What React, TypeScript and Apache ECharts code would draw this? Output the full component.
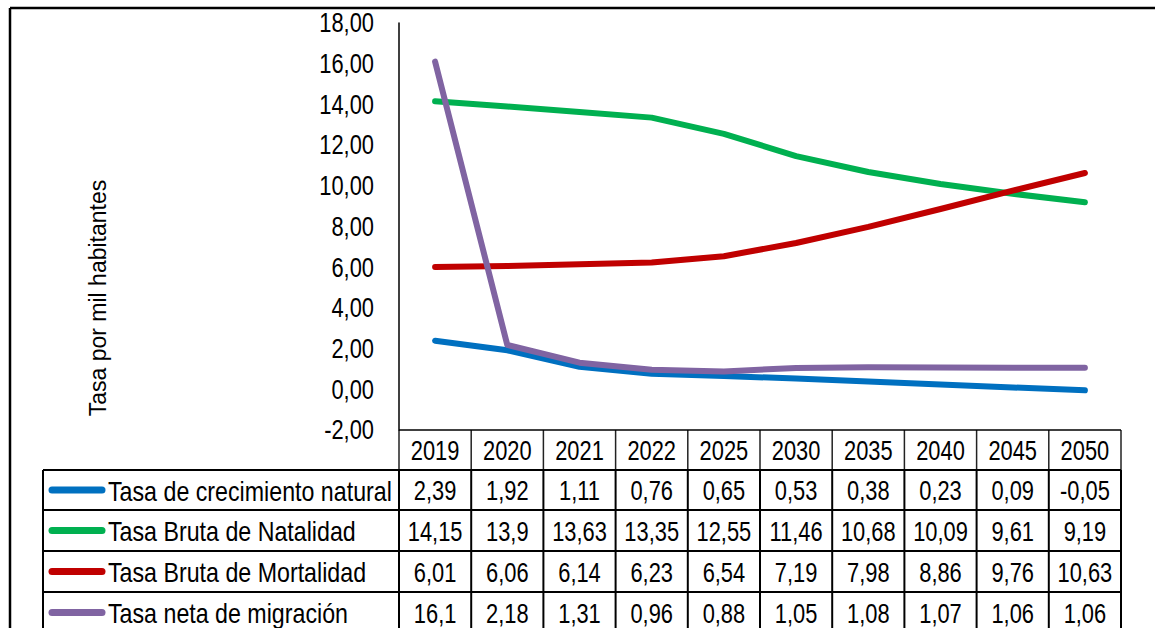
import React, { useEffect, useRef } from "react";
import * as echarts from "echarts";

const categories = ["2019", "2020", "2021", "2022", "2025", "2030", "2035", "2040", "2045", "2050"];
const crecimiento = [2.39, 1.92, 1.11, 0.76, 0.65, 0.53, 0.38, 0.23, 0.09, -0.05];
const natalidad = [14.15, 13.9, 13.63, 13.35, 12.55, 11.46, 10.68, 10.09, 9.61, 9.19];
const mortalidad = [6.01, 6.06, 6.14, 6.23, 6.54, 7.19, 7.98, 8.86, 9.76, 10.63];
const migracion = [16.1, 2.18, 1.31, 0.96, 0.88, 1.05, 1.08, 1.07, 1.06, 1.06];
const yTicks = [-2, 0, 2, 4, 6, 8, 10, 12, 14, 16, 18];
const seriesNames = [
  "Tasa de crecimiento natural",
  "Tasa Bruta de Natalidad",
  "Tasa Bruta de Mortalidad",
  "Tasa neta de migración",
];
const seriesColors = ["#0070C0", "#00B050", "#C00000", "#8064A2"];
const yAxisTitle = "Tasa por mil habitantes";

const FONT = "'Liberation Sans', Arial, sans-serif";
const FS = 27;
const SX = 0.81;
const SX_LEGEND = 0.86;

const fmt = (v: number) => String(v).replace(".", ",");

export default function App() {
  const ref = useRef<HTMLDivElement>(null);
  useEffect(() => {
    document.body.style.margin = "0";
    const chart = echarts.init(ref.current!, null, { renderer: "svg" });
    const allData = [crecimiento, natalidad, mortalidad, migracion];
    chart.setOption({
      animation: false,
      backgroundColor: "#fff",
      textStyle: { fontFamily: FONT },
      grid: { left: 399, right: 34, top: 23, bottom: 198 },
      xAxis: {
        type: "category",
        data: categories,
        boundaryGap: true,
        axisLine: { show: false },
        axisTick: { show: false },
        axisLabel: { show: false },
      },
      yAxis: {
        type: "value",
        min: -2,
        max: 18,
        interval: 2,
        splitLine: { show: false },
        axisLine: { show: true, lineStyle: { color: "#000", width: 1.5 } },
        axisTick: { show: false },
        axisLabel: { show: false },
      },
      series: allData.map((d, i) => ({
        name: seriesNames[i],
        type: "line",
        data: d,
        symbol: "none",
        smooth: false,
        lineStyle: { color: seriesColors[i], width: 6, cap: "round", join: "round" },
        z: 2 + i,
      })),
    });

    const x0 = chart.convertToPixel({ xAxisIndex: 0 }, 0) as number;
    const x1 = chart.convertToPixel({ xAxisIndex: 0 }, 1) as number;
    const w = x1 - x0;
    const left = x0 - w / 2;
    const right = left + w * categories.length;
    const headerTop = 430;
    const rowTops = [470, 510, 551, 592, 633];
    const legendLeft = 43;
    const bottomEdge = 640;

    const txt = (x: number, y: number, text: string, align: string, sx: number = SX) => ({
      type: "text",
      x,
      y,
      scaleX: sx,
      style: { text, fontSize: FS, fontFamily: FONT, fill: "#000", align, verticalAlign: "middle" },
    });

    const g: any[] = [];
    // outer frame
    g.push({ type: "line", shape: { x1: 10, y1: 8, x2: 1160, y2: 8 }, style: { stroke: "#000", lineWidth: 2.5 } });
    g.push({ type: "line", shape: { x1: 10, y1: 8, x2: 10, y2: 640 }, style: { stroke: "#000", lineWidth: 2.5 } });
    // y axis title
    g.push({
      type: "text",
      x: 98,
      y: 298,
      rotation: Math.PI / 2,
      style: {
        text: yAxisTitle,
        fontSize: 23,
        fontFamily: FONT,
        fill: "#000",
        align: "center",
        verticalAlign: "middle",
      },
    });
    // y tick labels
    yTicks.forEach((t) => {
      const y = chart.convertToPixel({ yAxisIndex: 0 }, t) as number;
      g.push(txt(374, y, t.toFixed(2).replace(".", ","), "right"));
    });
    // table lines
    for (let k = 0; k <= categories.length; k++) {
      const x = left + k * w;
      g.push({ type: "line", shape: { x1: x, y1: headerTop, x2: x, y2: rowTops[0] }, style: { stroke: "#222", lineWidth: 1.5 } });
      g.push({ type: "line", shape: { x1: x, y1: rowTops[0], x2: x, y2: bottomEdge }, style: { stroke: "#000", lineWidth: 2 } });
    }
    g.push({ type: "line", shape: { x1: legendLeft, y1: rowTops[0], x2: legendLeft, y2: bottomEdge }, style: { stroke: "#000", lineWidth: 2 } });
    for (let r = 0; r < 4; r++) {
      g.push({ type: "line", shape: { x1: legendLeft, y1: rowTops[r], x2: right, y2: rowTops[r] }, style: { stroke: "#000", lineWidth: 2 } });
    }
    g.push({ type: "line", shape: { x1: left, y1: headerTop, x2: right, y2: headerTop }, style: { stroke: "#000", lineWidth: 1.5 } });
    // header labels
    categories.forEach((c, i) => {
      const cx = chart.convertToPixel({ xAxisIndex: 0 }, i) as number;
      g.push(txt(cx, (headerTop + rowTops[0]) / 2 + 1, c, "center"));
    });
    // rows
    for (let r = 0; r < 4; r++) {
      const cy = (rowTops[r] + rowTops[r + 1]) / 2;
      g.push({
        type: "line",
        shape: { x1: 52, y1: cy, x2: 102, y2: cy },
        style: { stroke: seriesColors[r], lineWidth: 7, lineCap: "round" },
      });
      g.push(txt(108, cy + 1, seriesNames[r], "left", SX_LEGEND));
      allData[r].forEach((v, i) => {
        const cx = chart.convertToPixel({ xAxisIndex: 0 }, i) as number;
        g.push(txt(cx, cy + 1, fmt(v), "center"));
      });
    }
    chart.setOption({ graphic: g });
    return () => chart.dispose();
  }, []);
  return <div ref={ref} style={{ width: 1155, height: 628 }} />;
}
